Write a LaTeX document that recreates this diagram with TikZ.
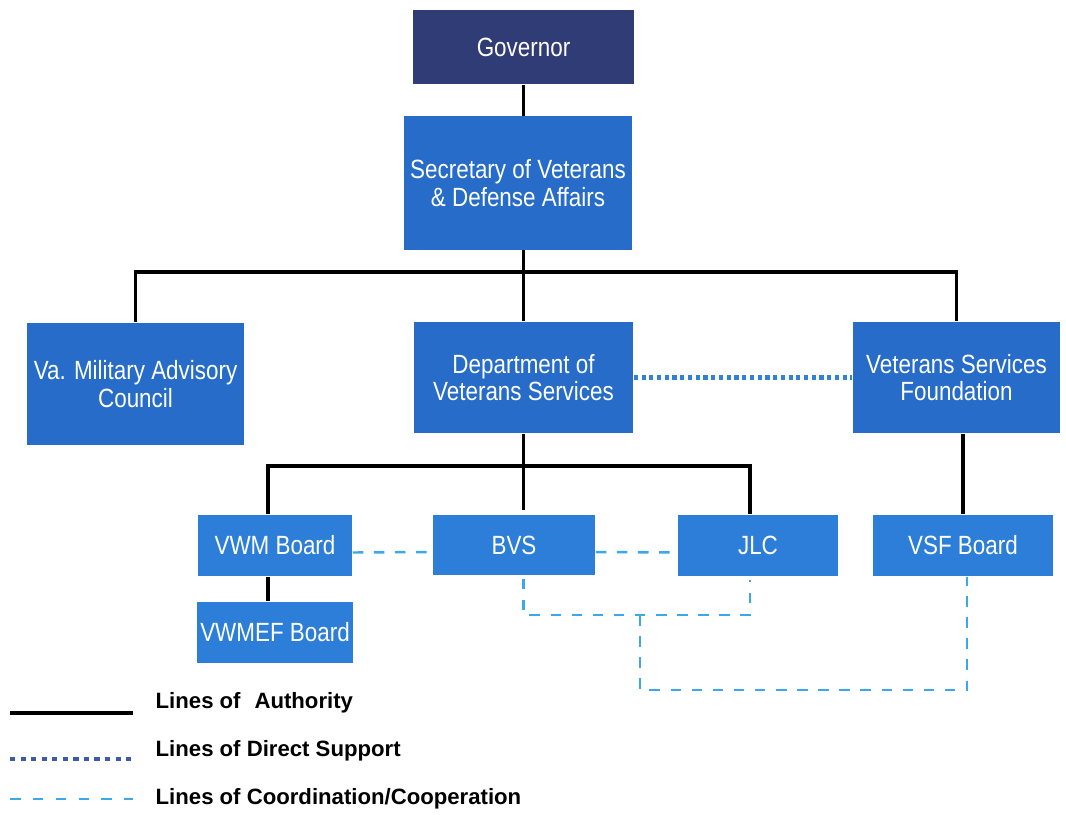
\documentclass[tikz,border=0pt]{standalone}
\usepackage{fontspec}
\usetikzlibrary{calc}
\newfontfamily\boxfont[FakeStretch=0.85]{Liberation Sans}
\newfontfamily\legfont{Liberation Sans}
\definecolor{govblue}{RGB}{48,60,118}
\definecolor{boxblue}{RGB}{38,108,200}
\definecolor{boxlight}{RGB}{44,126,216}
\definecolor{coordblue}{RGB}{60,168,236}
\definecolor{supblue}{RGB}{50,130,210}
\definecolor{legsup}{RGB}{60,90,170}
\tikzset{
  orgbox/.style={rectangle, fill=boxblue, text=white, inner sep=1pt, align=center,
    font=\boxfont\fontsize{7.5}{7.8}\selectfont},
  govbox/.style={orgbox, fill=govblue},
  smallbox/.style={orgbox, fill=boxlight},
  auth/.style={draw=black, line width=1.1pt},
  support/.style={draw=supblue, line width=1.2pt, dash pattern=on 1.2pt off 1pt},
  legsupport/.style={draw=legsup, line width=1.2pt, dash pattern=on 1.5pt off 1.5pt},
  coord/.style={draw=coordblue, line width=0.7pt, dash pattern=on 3pt off 3pt},
  legtext/.style={anchor=west, inner sep=0pt, text=black,
    font=\legfont\bfseries\fontsize{6.3}{7}\selectfont}
}
\begin{document}
\begin{tikzpicture}[x=0.01cm,y=-0.01cm]
\useasboundingbox (0,0) rectangle (1066,814);
% boxes
\node[govbox, minimum width=2.20cm, minimum height=0.74cm] (gov) at (523.5,47) {Governor};
\node[orgbox, minimum width=2.28cm, minimum height=1.33cm] (sec) at (518,183) {Secretary of Veterans\\\& Defense Affairs};
\node[orgbox, minimum width=2.17cm, minimum height=1.22cm] (vmac) at (135.5,384) {Va. Military Advisory\\Council};
\node[orgbox, minimum width=2.19cm, minimum height=1.11cm] (dvs) at (523.5,377.5) {Department of\\Veterans Services};
\node[orgbox, minimum width=2.07cm, minimum height=1.11cm] (vsf) at (956.5,377.5) {Veterans Services\\Foundation};
\node[smallbox, minimum width=1.54cm, minimum height=0.61cm] (vwm) at (275,545.5) {VWM Board};
\node[smallbox, minimum width=1.62cm, minimum height=0.60cm] (bvs) at (514,545) {BVS};
\node[smallbox, minimum width=1.60cm, minimum height=0.61cm] (jlc) at (758,545.5) {JLC};
\node[smallbox, minimum width=1.80cm, minimum height=0.61cm] (vsfb) at (963,545.5) {VSF Board};
\node[smallbox, minimum width=1.54cm, minimum height=0.61cm] (vwmef) at (275,632.5) {VWMEF Board};
% coordinates
\coordinate (b0) at (523.5,272);
\coordinate (b1) at (523.5,466);
\coordinate (l1) at (268,466);
\coordinate (l2) at (750,466);
\coordinate (bvstop) at (523.5,510);
\coordinate (c1) at (523.5,615);
\coordinate (c2) at (750,615);
\coordinate (c3) at (640,615);
\coordinate (c4) at (640,690);
\coordinate (c5) at (967,690);
% authority
\draw[auth] (gov.south) -- (gov.south |- sec.north);
\draw[auth] (gov.south |- sec.south) -- (b0);
\draw[auth] (vmac.north) |- (b0) -| (vsf.north);
\draw[auth] (b0) -- (dvs.north);
\draw[auth] (dvs.south) -- (b1);
\draw[auth] (vwm.north -| l1) -- (l1) -- (l2) -- (jlc.north -| l2);
\draw[auth] (b1) -- (bvstop);
\draw[auth] (vwm.south -| l1) -- (vwmef.north -| l1);
\draw[auth] (vsfb.north |- vsf.south) -- (vsfb.north);
% direct support
\draw[support] (dvs.east) -- (vsf.west);
% coordination
\draw[coord] ($(vwm.east)+(0,7)$) -- ($(bvs.west)+(0,7)$);
\draw[coord] ($(bvs.east)+(0,7)$) -- ($(jlc.west)+(0,7)$);
\draw[coord] ($(bvs.south -| c1)+(0,3)$) -- (c1) -- (c2) -- ($(jlc.south -| c2)+(0,3)$);
\draw[coord] (c3) -- (c4) -- (c5) -- (vsfb.south -| c5);
% legend
\node[legtext] (la) at (155,703) {Lines of\hspace{0.35em} Authority};
\node[legtext] (ls) at (155,751) {Lines of Direct Support};
\node[legtext] (lc) at (155,799) {Lines of Coordination/Cooperation};
\draw[auth, line width=0.9pt] (10,713) -- (133,713);
\draw[legsupport] (10,759) -- (133,759);
\draw[coord, line width=0.8pt, dash pattern=on 3pt off 3.5pt] (10,799) -- (133,799);
\end{tikzpicture}
\end{document}
